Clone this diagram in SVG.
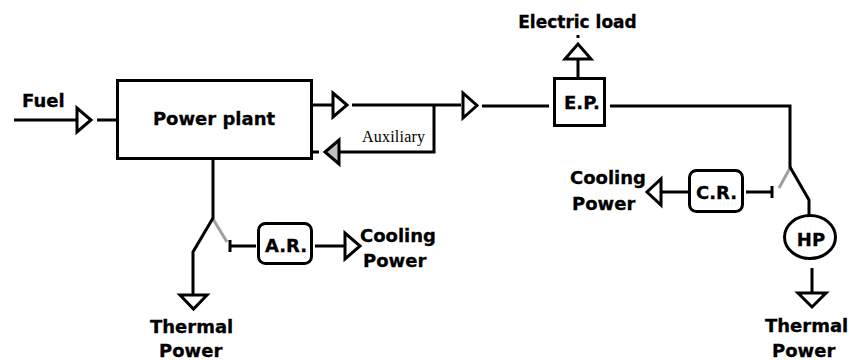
<svg xmlns="http://www.w3.org/2000/svg" width="851" height="360" viewBox="0 0 851 360">
<style>
.ln{stroke:#000;stroke-width:3;fill:none}
.gl{stroke:#a0a0a0;stroke-width:3;fill:none}
.box{stroke:#000;stroke-width:3;fill:#fff}
.tri{stroke:#000;stroke-width:3;fill:#fff;stroke-linejoin:miter}
.gtri{stroke:#000;stroke-width:3;fill:#c0c0c0}
.t{font-family:"DejaVu Sans",Verdana,sans-serif;font-weight:bold;font-size:18px;fill:#000;stroke:#000;stroke-width:0.3}
.s{font-family:"Liberation Serif","Times New Roman",serif;font-size:16px;fill:#000}
</style>
<rect width="851" height="360" fill="#fff"/>
<g id="connectors">
  <line class="ln" x1="14" y1="120" x2="76" y2="120"/>
  <polygon class="tri" points="77,108 77,132 91,120"/>
  <line class="ln" x1="97" y1="120" x2="117" y2="120"/>
  <line class="ln" x1="312" y1="105" x2="332" y2="105"/>
  <polygon class="tri" points="333,93 333,117 347,105"/>
  <line class="ln" x1="352" y1="105" x2="461" y2="105"/>
  <polyline class="ln" points="434,105 434,152 339,152"/>
  <polygon class="gtri" points="339,140 339,164 325,152"/>
  <line class="ln" x1="312" y1="152" x2="319" y2="152"/>
  <polygon class="tri" points="463,93 463,118 477,105.5"/>
  <line class="ln" x1="482" y1="106" x2="549" y2="106"/>
  <line class="ln" x1="578" y1="59" x2="578" y2="78"/>
  <polygon class="tri" points="565,59 591,59 578,44"/>
  <line class="ln" x1="578" y1="35" x2="578" y2="38"/>
  <polyline class="ln" points="610,106 790,106 790,168"/>
  <line class="gl" x1="790" y1="168" x2="779" y2="188"/>
  <polyline class="ln" points="790,167 809,200 809,215"/>
  <line class="ln" x1="812" y1="268" x2="812" y2="293"/>
  <polygon class="tri" points="798,293 826,293 812,307"/>
  <line class="ln" x1="746" y1="192" x2="772" y2="192"/>
  <line class="ln" x1="772" y1="186" x2="772" y2="198"/>
  <line class="ln" x1="661" y1="192" x2="688" y2="192"/>
  <polygon class="tri" points="661,179 661,205 647,192"/>
  <line class="ln" x1="213" y1="159" x2="213" y2="219"/>
  <line class="gl" x1="213" y1="219" x2="227" y2="242"/>
  <polyline class="ln" points="213,218 193,252 193,295"/>
  <polygon class="tri" points="180,295 207,295 193.5,309"/>
  <line class="ln" x1="230" y1="240" x2="230" y2="252"/>
  <line class="ln" x1="230" y1="246" x2="256" y2="246"/>
  <line class="ln" x1="315" y1="246" x2="344" y2="246"/>
  <polygon class="tri" points="345,233 345,259 360,246"/>
</g>
<g id="fuel"><text class="t" x="22" y="107">Fuel</text></g>
<g id="power-plant">
  <rect class="box" x="117.5" y="80.5" width="194" height="78"/>
  <text class="t" x="214" y="125" text-anchor="middle">Power plant</text>
</g>
<g id="auxiliary"><text class="s" x="362" y="142" textLength="63">Auxiliary</text></g>
<g id="electric-load"><text class="t" x="577.5" y="28" text-anchor="middle" style="font-size:17px">Electric load</text></g>
<g id="ep">
  <rect class="box" x="554.5" y="78.5" width="50" height="47"/>
  <text class="t" x="582" y="109" text-anchor="middle">E.P.</text>
</g>
<g id="cr">
  <rect class="box" x="689.5" y="170.5" width="53" height="41" rx="7"/>
  <text class="t" x="716.5" y="199" text-anchor="middle">C.R.</text>
</g>
<g id="cooling-right">
  <text class="t" x="570" y="184">Cooling</text>
  <text class="t" x="572" y="210">Power</text>
</g>
<g id="hp">
  <ellipse class="box" cx="810" cy="237" rx="25.5" ry="21.5"/>
  <text class="t" x="811" y="246" text-anchor="middle">HP</text>
</g>
<g id="thermal-right">
  <text class="t" x="765" y="332">Thermal</text>
  <text class="t" x="772" y="357">Power</text>
</g>
<g id="ar">
  <rect class="box" x="258.5" y="223.5" width="53" height="40" rx="7"/>
  <text class="t" x="286" y="252" text-anchor="middle">A.R.</text>
</g>
<g id="cooling-left">
  <text class="t" x="360" y="242">Cooling</text>
  <text class="t" x="363" y="267">Power</text>
</g>
<g id="thermal-left">
  <text class="t" x="150" y="333">Thermal</text>
  <text class="t" x="159" y="357">Power</text>
</g>
</svg>
